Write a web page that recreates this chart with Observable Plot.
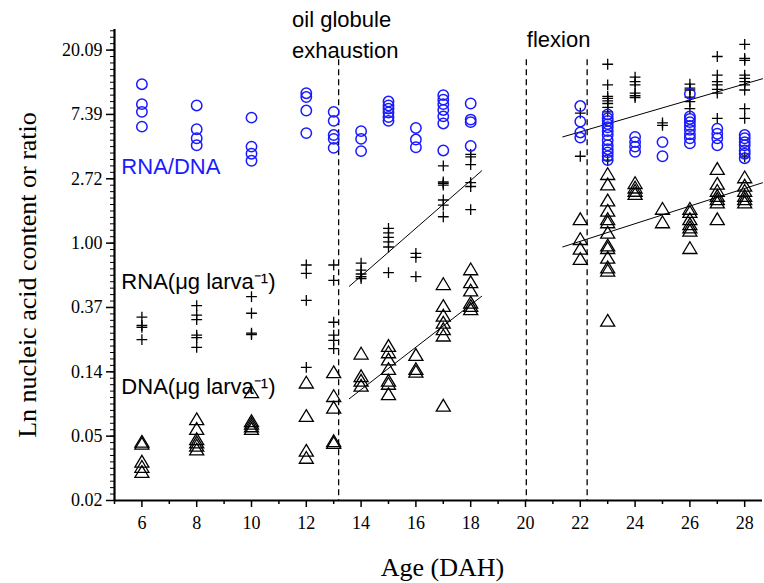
<!DOCTYPE html>
<html><head><meta charset="utf-8">
<script src="https://cdn.jsdelivr.net/npm/d3@7"></script>
<script src="https://cdn.jsdelivr.net/npm/@observablehq/plot@0.6"></script>
<style>body{margin:0;background:#fff} svg{display:block}</style>
</head><body><div id="chart"></div>
<script>
// Ln values, grouped by age (DAH)
const ratioByDay = [
  [6, [2.47, 2.16, 2.04, 1.81]],
  [8, [2.14, 1.77, 1.63, 1.52]],
  [10, [1.95, 1.50, 1.39, 1.28]],
  [12, [2.33, 2.27, 2.06, 1.71]],
  [13, [2.04, 1.90, 1.68, 1.62, 1.48]],
  [14, [1.74, 1.62, 1.43]],
  [15, [2.20, 2.14, 2.09, 2.03, 1.96, 1.90]],
  [16, [1.79, 1.61, 1.49]],
  [17, [2.30, 2.23, 2.16, 2.07, 1.97, 1.86, 1.44]],
  [18, [2.17, 1.92, 1.88, 1.51]],
  [22, [2.13, 1.89, 1.72, 1.64]],
  [23, [2.00, 1.94, 1.90, 1.85, 1.80, 1.74, 1.68, 1.60, 1.52, 1.46, 1.41, 1.35, 1.29]],
  [24, [1.65, 1.57, 1.50, 1.42]],
  [25, [1.57, 1.35]],
  [26, [2.32, 1.97, 1.93, 1.88, 1.82, 1.76, 1.69, 1.63, 1.55]],
  [27, [1.78, 1.70, 1.63, 1.52]],
  [28, [1.68, 1.63, 1.57, 1.52, 1.44, 1.39, 1.32]]
];
const rnaByDay = [
  [6, [-1.15, -1.28, -1.31, -1.50]],
  [8, [-0.97, -1.12, -1.19, -1.43, -1.47, -1.62]],
  [10, [-0.83, -1.09, -1.40, -1.42]],
  [12, [-0.34, -0.47, -0.89, -1.93]],
  [13, [-0.34, -0.58, -1.23, -1.43, -1.51, -1.64]],
  [14, [-0.31, -0.42, -0.48, -0.52, -0.55]],
  [15, [0.23, 0.16, 0.09, 0.02, -0.06, -0.46]],
  [16, [-0.16, -0.22, -0.52]],
  [17, [1.20, 0.95, 0.93, 0.90, 0.67, 0.59, 0.41]],
  [18, [1.38, 1.34, 1.22, 0.94, 0.88, 0.52]],
  [22, [2.02, 1.35]],
  [23, [2.78, 2.46, 2.28, 2.25, 2.21, 2.17, 2.11, 2.04, 1.29]],
  [24, [2.58, 2.51, 2.46, 2.33, 2.29, 2.26]],
  [25, [1.87, 1.83]],
  [26, [2.47, 2.41, 2.38, 2.27, 2.20, 2.09]],
  [27, [2.90, 2.61, 2.51, 2.46, 2.39, 2.33, 1.94]],
  [28, [3.09, 2.87, 2.84, 2.61, 2.56, 2.51, 2.46, 2.38, 2.09, 1.94, 1.34]]
];
const dnaByDay = [
  [6, [-3.08, -3.11, -3.39, -3.47, -3.55]],
  [8, [-2.73, -2.88, -3.04, -3.09, -3.14, -3.20]],
  [10, [-2.31, -2.76, -2.80, -2.84, -2.88]],
  [12, [-2.16, -2.68, -3.22, -3.33]],
  [13, [-2.00, -2.37, -2.55, -3.07, -3.10]],
  [14, [-1.71, -2.06, -2.13, -2.21]],
  [15, [-1.59, -1.69, -1.80, -1.95, -2.13, -2.18, -2.34]],
  [16, [-1.73, -1.95, -1.99]],
  [17, [-0.63, -0.97, -1.12, -1.23, -1.33, -1.43, -2.52]],
  [18, [-0.40, -0.60, -0.73, -0.92, -0.97, -1.02]],
  [22, [0.38, 0.07, -0.08, -0.24]],
  [23, [1.08, 0.92, 0.67, 0.51, 0.38, 0.33, 0.17, -0.03, -0.07, -0.22, -0.37, -0.42, -1.20]],
  [24, [0.94, 0.87, 0.82, 0.77]],
  [25, [0.54, 0.33]],
  [26, [0.54, 0.49, 0.38, 0.30, 0.25, 0.20, -0.07]],
  [27, [1.16, 0.93, 0.82, 0.74, 0.69, 0.64, 0.38]],
  [28, [1.03, 0.90, 0.82, 0.74, 0.69, 0.64]]
];
// fitted lines: [from day, to day, intercept, slope] on ln scale
const fitLines = [
  [13.57, 18.4, -5.711, 0.3714],
  [13.57, 18.4, -6.891, 0.3296],
  [21.36, 28.65, -0.998, 0.124],
  [21.36, 28.65, -2.981, 0.1368]
];
const phaseDays = [13.18, 20.03, 22.25];
const yMajor = [-4, -3, -2, -1, 0, 1, 2, 3];
const yTickLabels = ["0.02", "0.05", "0.14", "0.37", "1.00", "2.72", "7.39", "20.09"];
const xMajor = [6, 8, 10, 12, 14, 16, 18, 20, 22, 24, 26, 28];
const xMinor = [5, 7, 9, 11, 13, 15, 17, 19, 21, 23, 25, 27];
const yMinor = d3.range(-4, 3.32, 0.1);
const annotations = [
  {x: 11.48, y: 3.353, text: "oil globule", color: "black"},
  {x: 11.48, y: 2.88, text: "exhaustion", color: "black"},
  {x: 20.05, y: 3.05, text: "flexion", color: "black"},
  {x: 5.25, y: 1.071, text: "RNA/DNA", color: "#1a1aff"},
  {x: 5.25, y: -0.718, text: "RNA(\u03bcg larva\u207b\u00b9)", color: "black"},
  {x: 5.25, y: -2.34, text: "DNA(\u03bcg larva\u207b\u00b9)", color: "black"}
];

const flat = (groups) => groups.flatMap(([day, vs]) => vs.map(v => ({day, v})));
const lineRows = fitLines.flatMap(([x0, x1, a, b], i) => [
  {id: i, x: x0, y: a + b * x0}, {id: i, x: x1, y: a + b * x1}
]);

const plusSymbol = {draw(ctx, size) {
  const r = Math.sqrt(size / Math.PI);
  ctx.moveTo(-r, 0); ctx.lineTo(r, 0); ctx.moveTo(0, -r); ctx.lineTo(0, r);
}};
const triSymbol = {draw(ctx, size) {
  const r = Math.sqrt(size / Math.PI);
  ctx.moveTo(0, -0.98 * r); ctx.lineTo(1.17 * r, 0.98 * r); ctx.lineTo(-1.17 * r, 0.98 * r); ctx.closePath();
}};

const serif = "Liberation Serif, Times New Roman, serif";
const sans = "Liberation Sans, Arial, sans-serif";

const chart = Plot.plot({
  width: 764, height: 583,
  marginLeft: 114, marginRight: 2, marginTop: 29, marginBottom: 83,
  x: {domain: [5, 28.65]},
  y: {domain: [-4, 3.32]},
  style: {background: "white"},
  marks: [
    Plot.axisY(yMinor, {tickSize: 4, tickFormat: null, text: null, strokeWidth: 1, label: null}),
    Plot.axisY({ticks: yMajor, tickSize: 8, tickPadding: 4, strokeWidth: 1.5,
      tickFormat: d => yTickLabels[yMajor.indexOf(d)], fontSize: 18, fontFamily: serif, label: null, fill: "black"}),
    Plot.axisX(xMinor, {tickSize: 4, text: null, strokeWidth: 1.5, label: null}),
    Plot.axisX({ticks: xMajor, tickSize: 7, tickPadding: 9, strokeWidth: 1.5,
      fontSize: 18, fontFamily: serif, label: null, fill: "black"}),
    Plot.ruleX([5], {strokeWidth: 2.2}),
    Plot.ruleY([-4], {strokeWidth: 2.2}),
    Plot.ruleX(phaseDays, {y1: 2.85, y2: -4, stroke: "black", strokeWidth: 1.3, strokeDasharray: "6,4"}),
    Plot.line(lineRows, {x: "x", y: "y", z: "id", stroke: "black", strokeWidth: 1}),
    Plot.dot(flat(dnaByDay), {x: "day", y: "v", symbol: triSymbol, r: 6, stroke: "black", fill: "none", strokeWidth: 1.3}),
    Plot.dot(flat(rnaByDay), {x: "day", y: "v", symbol: plusSymbol, r: 5.4, stroke: "black", fill: "none", strokeWidth: 1.3}),
    Plot.dot(flat(ratioByDay), {x: "day", y: "v", r: 5.2, stroke: "#1a1aff", fill: "none", strokeWidth: 1.5}),
    Plot.text(annotations, {x: "x", y: "y", text: "text", fill: "color", textAnchor: "start", lineAnchor: "bottom",
      fontSize: 22, fontFamily: sans}),
    Plot.text(["Ln nucleic acid content or ratio"], {frameAnchor: "left", textAnchor: "middle", dx: -87, dy: 10, rotate: -90,
      fontSize: 26, fontFamily: serif, fill: "black"}),
    Plot.text(["Age (DAH)"], {frameAnchor: "bottom", textAnchor: "middle", dx: 4, dy: 75, lineAnchor: "bottom",
      fontSize: 26, fontFamily: serif, fill: "black"})
  ]
});
document.getElementById("chart").appendChild(chart);
</script>
</body></html>
